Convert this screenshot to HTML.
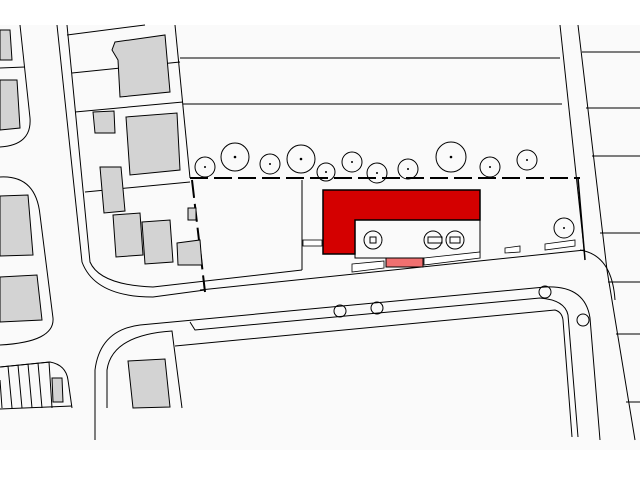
<!DOCTYPE html>
<html><head><style>
html,body{margin:0;padding:0;background:#fff;}
svg{display:block;}
</style></head><body>
<svg width="640" height="480" viewBox="0 0 640 480" xmlns="http://www.w3.org/2000/svg">
<rect x="0" y="25" width="640" height="425" fill="#fafafa"/>
<g fill="none" stroke="#000" stroke-width="1">
<!-- left blocks -->
<path d="M20,25 L30,118 Q32,145 0,147"/>
<path d="M0,68 L25,67"/>
<path d="M0,177 Q36,175 40,215 L53,318 Q55,342 0,345"/>
<path d="M0,367 L50,362 Q66,365 68,380 L72,408"/>
<!-- left road right edges -->
<path d="M57,25 L82,262 Q95,297 153,297 L205,290"/>
<path d="M67,25 L90,262 Q100,285 153,287 L302,270"/>
<!-- property lines -->
<path d="M67,35 L145,25"/>
<path d="M72,73 L180,62"/>
<path d="M75,112 L183,102"/>
<path d="M85,192 L190,182"/>
<path d="M180,58 L560,58"/>
<path d="M183,104 L562,104"/>
<path d="M175,25 L190,178"/>
<!-- right road -->
<path d="M560,25 L585,258"/>
<path d="M578,25 L607,270 L635,440"/>
<path d="M582,52 L640,52 M586,108 L640,108 M592,156 L640,156 M600,233 L640,233 M608,282 L640,282 M616,334 L640,334 M626,402 L640,402"/>
<path d="M580,250 Q612,255 615,300"/>
<!-- lower roads -->
<path d="M140,325 L545,287 Q585,285 590,318 L600,440"/>
<path d="M190,322 L195,330 L540,298 Q565,300 568,315 L578,437"/>
<path d="M175,346 L555,310 Q562,312 563,320 L572,437"/>
<path d="M95,440 L95,370 Q100,330 140,325"/>
<path d="M107,408 L107,370 Q112,335 172,331 L182,408"/>
<!-- stripes -->
<path d="M0,367 L50,362 M2,408 L0,380 M12,408 L8,366 M22,408 L18,365 M32,408 L28,364 M42,408 L38,363 M52,408 L49,362 M0,409 L72,406"/>
<!-- plot boundary -->
<path d="M200,290 L585,250"/>
<path d="M302,180 L302,270"/>
<path d="M578,178 L585,260" stroke-width="1.5"/>
</g>
<g fill="none" stroke="#000" stroke-width="2" stroke-dasharray="18,6">
<path d="M190,178 L580,178"/>
<path d="M192,180 L205,292"/>
</g>
<!-- houses -->
<g fill="#d3d3d3" stroke="#000" stroke-width="1">
<polygon points="0,30 10,30 12,60 0,60"/>
<polygon points="0,80 17,80 20,128 0,130"/>
<polygon points="0,196 28,195 33,255 0,256"/>
<polygon points="0,277 37,275 42,320 0,322"/>
<polygon points="115,42 165,35 170,92 120,97 118,60 112,50"/>
<polygon points="93,112 114,111 115,133 95,133"/>
<polygon points="126,117 177,113 180,170 130,175"/>
<polygon points="100,167 121,167 125,211 104,213"/>
<polygon points="188,208 196,208 196,220 188,220"/>
<polygon points="113,215 140,213 143,255 116,257"/>
<polygon points="142,222 170,220 173,262 145,264"/>
<polygon points="177,243 200,240 202,265 178,265"/>
<polygon points="128,361 165,359 170,407 133,408"/>
<polygon points="52,378 62,378 63,402 53,402"/>
</g>
<!-- trees -->
<g fill="none" stroke="#000" stroke-width="1">
<circle cx="205" cy="167" r="10"/><circle cx="235" cy="157" r="14"/><circle cx="270" cy="164" r="10"/>
<circle cx="301" cy="159" r="14"/><circle cx="326" cy="172" r="9"/><circle cx="352" cy="162" r="10"/>
<circle cx="377" cy="173" r="10"/><circle cx="408" cy="169" r="10"/><circle cx="451" cy="157" r="15"/>
<circle cx="490" cy="167" r="10"/><circle cx="527" cy="160" r="10"/><circle cx="564" cy="228" r="10"/>
<circle cx="340" cy="311" r="6"/><circle cx="377" cy="308" r="6"/><circle cx="545" cy="292" r="6"/><circle cx="583" cy="320" r="6"/>
</g>
<g fill="#000">
<circle cx="205" cy="167" r="1"/><circle cx="235" cy="157" r="1.3"/><circle cx="270" cy="164" r="1"/>
<circle cx="301" cy="159" r="1.3"/><circle cx="326" cy="172" r="1"/><circle cx="352" cy="162" r="1"/>
<circle cx="377" cy="173" r="1"/><circle cx="408" cy="169" r="1"/><circle cx="451" cy="157" r="1.3"/>
<circle cx="490" cy="167" r="1"/><circle cx="527" cy="160" r="1"/><circle cx="564" cy="228" r="1"/>
</g>
<!-- building -->
<rect x="355" y="220" width="125" height="38" fill="#fafafa" stroke="#000"/>
<polygon points="323,190 480,190 480,220 355,220 355,254 323,254" fill="#d40000" stroke="#000" stroke-width="1.5"/>
<g fill="none" stroke="#000">
<circle cx="373" cy="240" r="9"/><circle cx="433" cy="240" r="9"/><circle cx="455" cy="240" r="9"/>
<rect x="370" y="237" width="6" height="6"/><rect x="428" y="237" width="14" height="6"/><rect x="450" y="237" width="10" height="6"/>
</g>
<rect x="386" y="258" width="37" height="9" fill="#f07070" stroke="#000"/>
<!-- hedges -->
<g fill="#fff" stroke="#000" stroke-width="0.8">
<rect x="303" y="240" width="19" height="6"/>
<polygon points="352,264 384,261 384,268 352,272"/>
<polygon points="424,258 480,252 480,258 424,265"/>
<polygon points="505,248 520,246 520,252 505,253"/>
<polygon points="545,244 575,240 575,246 545,250"/>
</g>
</svg>
</body></html>
